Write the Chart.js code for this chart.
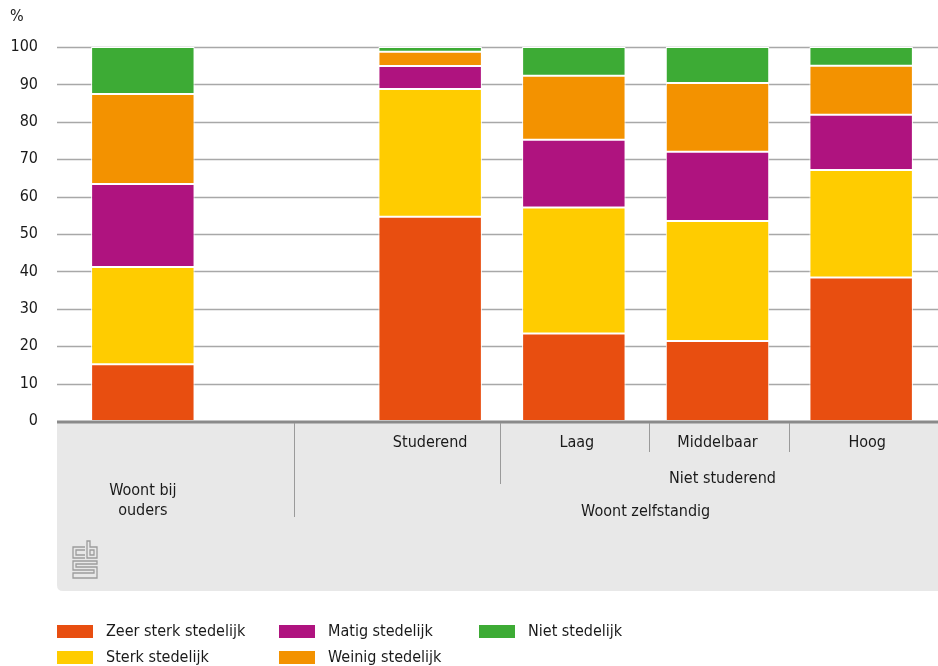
<!DOCTYPE html>
<html>
<head>
<meta charset="utf-8">
<script src="https://cdn.jsdelivr.net/npm/chart.js@4.4.0/dist/chart.umd.min.js"></script>
<style>
  html, body { margin: 0; padding: 0; background: #fff; }
  #wrap { width: 938px; height: 666px; position: relative; }
</style>
</head>
<body>
<div id="wrap"><canvas id="cbsChart"></canvas></div>
<script>
// categorieen (tweede plek is leeg, scheiding tussen de groepen)
const categories = ['Woont bij ouders', '', 'Studerend', 'Laag', 'Middelbaar', 'Hoog'];

// aandelen in %
const zeerSterk = [15.2, null, 54.6, 23.4, 21.4, 38.4];
const sterk     = [26.0, null, 34.2, 33.7, 32.1, 28.7];
const matig     = [22.2, null, 6.1, 18.1, 18.5, 14.8];
const weinig    = [24.0, null, 3.8, 17.1, 18.4, 13.1];
const niet      = [12.6, null, 1.3, 7.7, 9.6, 5.0];

const yTicks = [0, 10, 20, 30, 40, 50, 60, 70, 80, 90, 100];

const FONT = '"DejaVu Sans Condensed", "DejaVu Sans", sans-serif';
const TEXT = '#1a1a1a';

const series = [
    { label: 'Zeer sterk stedelijk', data: zeerSterk, color: '#e84e10' },
    { label: 'Sterk stedelijk', data: sterk, color: '#ffcc00' },
    { label: 'Matig stedelijk', data: matig, color: '#af137f' },
    { label: 'Weinig stedelijk', data: weinig, color: '#f39200' },
    { label: 'Niet stedelijk', data: niet, color: '#3dab35' }
];

// grijs vlak, rasterlijnen, groepslabels en legenda
const decor = {
    id: 'decor',
    beforeDatasetsDraw(chart) {
        const ctx = chart.ctx;
        const y = chart.scales.y;
        const left = 57, right = 938;
        const base = y.getPixelForValue(0);

        ctx.save();
        // grijs vlak onder de as
        ctx.fillStyle = '#e8e8e8';
        ctx.beginPath();
        const top = base + 1, bottom = 591, r = 6;
        ctx.moveTo(left, top);
        ctx.lineTo(right, top);
        ctx.lineTo(right, bottom);
        ctx.lineTo(left + r, bottom);
        ctx.quadraticCurveTo(left, bottom, left, bottom - r);
        ctx.closePath();
        ctx.fill();

        // rasterlijnen
        ctx.strokeStyle = '#a8a8a8';
        ctx.lineWidth = 1.5;
        yTicks.forEach(function (v) {
            if (v === 0) return;
            const py = Math.round(y.getPixelForValue(v)) + 0.5;
            ctx.beginPath();
            ctx.moveTo(left, py);
            ctx.lineTo(right, py);
            ctx.stroke();
        });

        // % boven de as
        ctx.fillStyle = TEXT;
        ctx.font = '16px ' + FONT;
        ctx.textAlign = 'left';
        ctx.textBaseline = 'middle';
        ctx.fillText('%', 10, 17);
        ctx.restore();
    },
    afterDatasetsDraw(chart) {
        const ctx = chart.ctx;
        const x = chart.scales.x;
        const y = chart.scales.y;
        const left = 57, right = 938;
        const base = y.getPixelForValue(0);
        const slot = x.getPixelForValue(1) - x.getPixelForValue(0);
        const px = function (i) { return x.getPixelForValue(i); };

        ctx.save();
        // x-as
        ctx.strokeStyle = '#8a8a8a';
        ctx.lineWidth = 3;
        ctx.beginPath();
        ctx.moveTo(left, base + 1);
        ctx.lineTo(right, base + 1);
        ctx.stroke();

        // scheidingslijnen
        ctx.strokeStyle = '#9a9a9a';
        ctx.lineWidth = 1;
        const seps = [
            [px(1) + slot * 0.05, 517],
            [(px(2) + px(3)) / 2 - 2, 484],
            [(px(3) + px(4)) / 2 + 3, 452],
            [(px(4) + px(5)) / 2, 452]
        ];
        seps.forEach(function (s) {
            const sx = Math.round(s[0]) + 0.5;
            ctx.beginPath();
            ctx.moveTo(sx, base + 2);
            ctx.lineTo(sx, s[1]);
            ctx.stroke();
        });

        // labels
        ctx.fillStyle = TEXT;
        ctx.font = '16px ' + FONT;
        ctx.textAlign = 'center';
        ctx.textBaseline = 'middle';
        for (let i = 2; i < categories.length; i++) {
            ctx.fillText(categories[i], px(i) + (i === 5 ? 6 : i === 3 ? 3 : 0), 443);
        }
        ctx.fillText('Niet studerend', (px(3) + px(5)) / 2 + 5, 479);
        ctx.fillText('Woont zelfstandig', (px(2) + px(5)) / 2, 512);
        ctx.fillText('Woont bij', px(0), 491);
        ctx.fillText('ouders', px(0), 511);

        // cbs-logo (vereenvoudigd)
        ctx.strokeStyle = '#9c9c9c';
        ctx.lineWidth = 1.3;
        ctx.beginPath();
        // c
        ctx.moveTo(85, 547); ctx.lineTo(73, 547); ctx.lineTo(73, 558); ctx.lineTo(85, 558);
        ctx.moveTo(85, 550); ctx.lineTo(76, 550); ctx.lineTo(76, 555); ctx.lineTo(85, 555);
        // b
        ctx.moveTo(87, 541); ctx.lineTo(87, 558); ctx.lineTo(97, 558); ctx.lineTo(97, 547); ctx.lineTo(90, 547); ctx.lineTo(90, 541); ctx.closePath();
        ctx.rect(90, 550, 4, 5);
        // s
        ctx.moveTo(97, 561); ctx.lineTo(73, 561); ctx.lineTo(73, 570); ctx.lineTo(94, 570); ctx.lineTo(94, 573); ctx.lineTo(73, 573); ctx.lineTo(73, 578); ctx.lineTo(97, 578); ctx.lineTo(97, 567); ctx.lineTo(76, 567); ctx.lineTo(76, 564); ctx.lineTo(97, 564); ctx.closePath();
        ctx.stroke();

        // legenda
        const order = [0, 2, 4, 1, 3];
        const cols = [57, 279, 479];
        order.forEach(function (d, k) {
            const col = k % 3, row = Math.floor(k / 3);
            const sx = cols[col], sy = 625 + row * 26;
            ctx.fillStyle = series[d].color;
            ctx.fillRect(sx, sy, 36, 13);
            ctx.fillStyle = TEXT;
            ctx.textAlign = 'left';
            ctx.fillText(series[d].label, sx + 49, sy + 7);
        });
        ctx.restore();
    }
};

document.addEventListener('DOMContentLoaded', function () {
    const ctx = document.getElementById('cbsChart').getContext('2d');
    const chart = new Chart(ctx, {
        type: 'bar',
        data: {
            labels: categories,
            datasets: series.map(function (s) {
                return {
                    label: s.label,
                    data: s.data,
                    backgroundColor: s.color,
                    borderColor: '#ffffff',
                    borderWidth: 1,
                    borderSkipped: false,
                    categoryPercentage: 1,
                    barPercentage: 0.72
                };
            })
        },
        options: {
            responsive: true,
            maintainAspectRatio: false,
            animation: false,
            layout: {
                padding: { left: 0, right: 5, top: 47, bottom: 245 }
            },
            plugins: {
                legend: { display: false },
                tooltip: { enabled: false }
            },
            scales: {
                x: {
                    stacked: true,
                    display: false,
                    offset: true
                },
                y: {
                    stacked: true,
                    min: 0,
                    max: 100,
                    afterBuildTicks: function (scale) {
                        scale.ticks = yTicks.map(function (v) { return { value: v }; });
                    },
                    afterFit: function (scale) {
                        scale.width = 71;
                    },
                    ticks: {
                        color: TEXT,
                        padding: 33,
                        font: { family: FONT, size: 16 }
                    },
                    grid: { display: false, drawTicks: false },
                    border: { display: false }
                }
            }
        },
        plugins: [decor]
    });
});
</script>
</body>
</html>
